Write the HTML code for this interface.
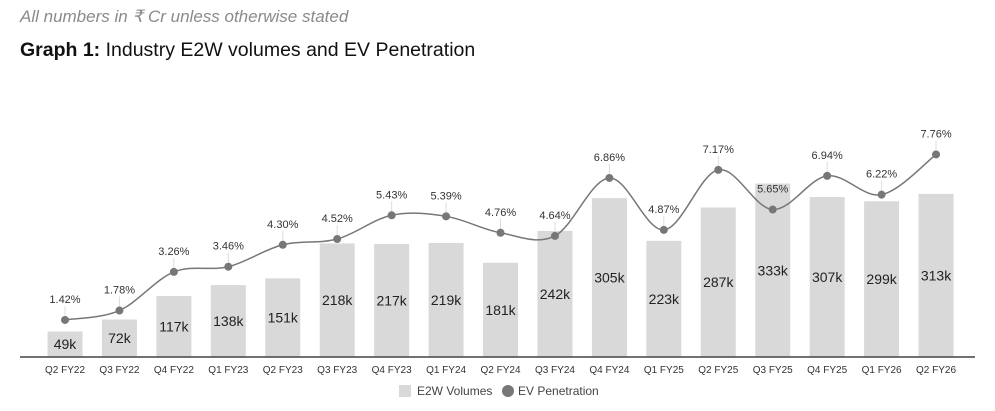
<!DOCTYPE html>
<html><head><meta charset="utf-8"><style>
body{margin:0;background:#fff;width:995px;height:411px;overflow:hidden;font-family:"Liberation Sans",sans-serif}
.sub{position:absolute;left:20px;top:7px;font-size:17px;font-style:italic;color:#8a8a8a}
.title{position:absolute;left:20px;top:39px;font-size:19.5px;color:#111}
svg{position:absolute;left:0;top:0}
</style></head><body>
<div class="sub">All numbers in ₹ Cr unless otherwise stated</div>
<div class="title"><b>Graph 1:</b> Industry E2W volumes and EV Penetration</div>
<svg id="s" width="995" height="411" font-family="Liberation Sans, sans-serif"></svg>
<script>
const cats=["Q2 FY22","Q3 FY22","Q4 FY22","Q1 FY23","Q2 FY23","Q3 FY23","Q4 FY23","Q1 FY24","Q2 FY24","Q3 FY24","Q4 FY24","Q1 FY25","Q2 FY25","Q3 FY25","Q4 FY25","Q1 FY26","Q2 FY26"];
const vol=[49,72,117,138,151,218,217,219,181,242,305,223,287,333,307,299,313];
const pen=[1.42,1.78,3.26,3.46,4.30,4.52,5.43,5.39,4.76,4.64,6.86,4.87,7.17,5.65,6.94,6.22,7.76];
const base=357;let h='';
const X=i=>65+i*54.44;
vol.forEach((v,i)=>{const t=base-v*0.521;
h+=`<rect x="${X(i)-17.5}" y="${t}" width="35" height="${base-t}" fill="#d9d9d9"/>`;
h+=`<text x="${X(i)}" y="${(t+base)/2+5}" font-size="14" text-anchor="middle" fill="#222">${v}k</text>`;
h+=`<text x="${X(i)}" y="373" font-size="10" text-anchor="middle" fill="#333">${cats[i]}</text>`;});
h+=`<line x1="20" x2="975" y1="${base}" y2="${base}" stroke="#444" stroke-width="1.5"/>`;
const P=pen.map((p,i)=>[X(i),base-p*26.1]);
let d=`M${P[0][0]},${P[0][1]}`;
for(let i=0;i<P.length-1;i++){const p0=P[Math.max(0,i-1)],p1=P[i],p2=P[i+1],p3=P[Math.min(P.length-1,i+2)];
d+=` C${p1[0]+(p2[0]-p0[0])/6},${p1[1]+(p2[1]-p0[1])/6} ${p2[0]-(p3[0]-p1[0])/6},${p2[1]-(p3[1]-p1[1])/6} ${p2[0]},${p2[1]}`;}
h+=`<path d="${d}" fill="none" stroke="#777" stroke-width="1.5"/>`;
P.forEach((p,i)=>{h+=`<line x1="${p[0]}" x2="${p[0]}" y1="${p[1]-14}" y2="${p[1]}" stroke="#ddd"/>`;
h+=`<circle cx="${p[0]}" cy="${p[1]}" r="4" fill="#777"/>`;
h+=`<text x="${p[0]}" y="${p[1]-17}" font-size="11" text-anchor="middle" fill="#333">${pen[i].toFixed(2)}%</text>`;});
h+=`<rect x="399" y="385" width="12" height="12" fill="#d9d9d9"/><text x="417" y="395" font-size="12" fill="#444">E2W Volumes</text>`;
h+=`<circle cx="508" cy="391" r="6" fill="#777"/><text x="518" y="395" font-size="12" fill="#444">EV Penetration</text>`;
document.getElementById('s').innerHTML=h;
</script>
</body></html>
